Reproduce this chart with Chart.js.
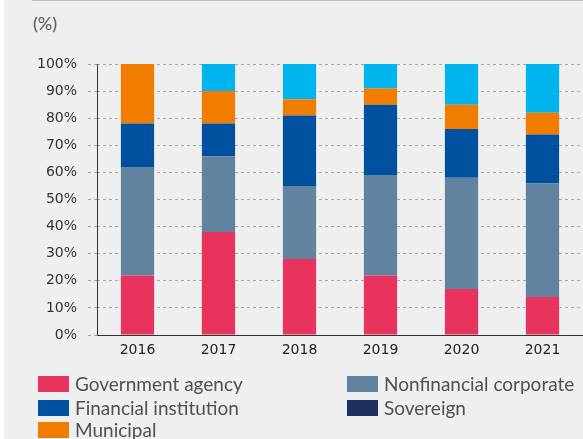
<!DOCTYPE html>
<html>
<head>
<meta charset="utf-8">
<script src="https://cdn.jsdelivr.net/npm/chart.js@4"></script>
<style>
  html, body { margin: 0; padding: 0; }
  body { width: 583px; height: 439px; position: relative; overflow: hidden; background: #ffffff; }
  #bg { position: absolute; left: 4px; top: 0; width: 579px; height: 439px; background: #efefef; }
  #topline { position: absolute; left: 32px; top: 0; width: 551px; height: 1px; background: #bdbdbd; }
  #wrap { position: absolute; left: 0; top: 0; width: 583px; height: 439px; }
  #unit { position: absolute; left: 33px; top: 12px; font-family: Lato, sans-serif; font-size: 18px; color: #555; }
  .leg { position: absolute; font-family: Lato, sans-serif; font-size: 19px; color: #505050; line-height: 16px; white-space: nowrap; }
  .leg span.sw { position: absolute; left: 0; top: 0; width: 31px; height: 16px; }
  .leg span.tx { position: absolute; left: 37px; top: 0; }
</style>
</head>
<body>
<div id="bg"></div>
<div id="topline"></div>
<div id="unit">(%)</div>
<div id="wrap"><canvas id="c" width="583" height="439"></canvas></div>
<div id="legend"></div>
<script>
const categories = ["2016", "2017", "2018", "2019", "2020", "2021"];
const governmentAgency = [22, 38, 28, 22, 17, 14];
const nonfinancialCorporate = [40, 28, 27, 37, 41, 42];
const financialInstitution = [16, 12, 26, 26, 18, 18];
const municipal = [22, 12, 6, 6, 9, 8];
const sovereign = [0, 0, 0, 0, 0, 0];
const other = [0, 10, 13, 9, 15, 18];
const yTicks = [0, 10, 20, 30, 40, 50, 60, 70, 80, 90, 100];

const colors = {
  gov: "#e8335e",
  nonfin: "#6283a0",
  fin: "#0050a0",
  muni: "#f07d00",
  sov: "#1f2f5f",
  other: "#00b4ee"
};

const datasets = [
  { label: "Government agency", data: governmentAgency, backgroundColor: colors.gov },
  { label: "Nonfinancial corporate", data: nonfinancialCorporate, backgroundColor: colors.nonfin },
  { label: "Financial institution", data: financialInstitution, backgroundColor: colors.fin },
  { label: "Municipal", data: municipal, backgroundColor: colors.muni },
  { label: "Sovereign", data: sovereign, backgroundColor: colors.sov },
  { label: "Other", data: other, backgroundColor: colors.other }
].map(d => Object.assign(d, { borderWidth: 0, barPercentage: 0.41, categoryPercentage: 1.0 }));

// Solid axis lines drawn after datasets (grid border itself is dashed)
const axisLines = {
  id: "axisLines",
  afterDraw(chart) {
    const { ctx, chartArea } = chart;
    ctx.save();
    ctx.setLineDash([]);
    ctx.lineWidth = 1;
    ctx.strokeStyle = "#333";
    ctx.beginPath();
    ctx.moveTo(chartArea.left + 0.5, chartArea.top);
    ctx.lineTo(chartArea.left + 0.5, chartArea.bottom + 0.5);
    ctx.lineTo(chartArea.right, chartArea.bottom + 0.5);
    ctx.stroke();
    ctx.restore();
  }
};

new Chart(document.getElementById("c"), {
  type: "bar",
  data: { labels: categories, datasets: datasets },
  options: {
    responsive: false,
    animation: false,
    layout: { padding: { top: 64, right: 0, bottom: 74, left: 0 } },
    plugins: { legend: { display: false }, tooltip: { enabled: false } },
    scales: {
      x: {
        stacked: true,
        grid: { display: false, drawTicks: false },
        border: { display: false },
        ticks: { padding: 7, color: "#222", font: { family: "DejaVu Sans", size: 14 } },
        afterFit: s => { s.height = 30; }
      },
      y: {
        stacked: true,
        min: 0,
        max: 100,
        afterBuildTicks: s => { s.ticks = yTicks.map(v => ({ value: v })); },
        grid: { color: "#a8a8a8", lineWidth: 1, tickLength: 9, drawTicks: true, tickBorderDash: [3, 3] },
        border: { display: false, dash: [3, 3] },
        ticks: { padding: 11, color: "#333", font: { family: "DejaVu Sans", size: 14 }, callback: v => v + "%" },
        afterFit: s => { s.width = 97; }
      }
    }
  },
  plugins: [axisLines]
});

// HTML legend
const legendItems = [
  { label: "Government agency", color: colors.gov, x: 38, y: 376 },
  { label: "Financial institution", color: colors.fin, x: 38, y: 400 },
  { label: "Municipal", color: colors.muni, x: 38, y: 422 },
  { label: "Nonfinancial corporate", color: colors.nonfin, x: 347, y: 376 },
  { label: "Sovereign", color: colors.sov, x: 347, y: 400 }
];
const lg = document.getElementById("legend");
legendItems.forEach(it => {
  const d = document.createElement("div");
  d.className = "leg";
  d.style.left = it.x + "px";
  d.style.top = it.y + "px";
  d.innerHTML = '<span class="sw" style="background:' + it.color + '"></span><span class="tx">' + it.label + '</span>';
  lg.appendChild(d);
});
</script>
</body>
</html>
